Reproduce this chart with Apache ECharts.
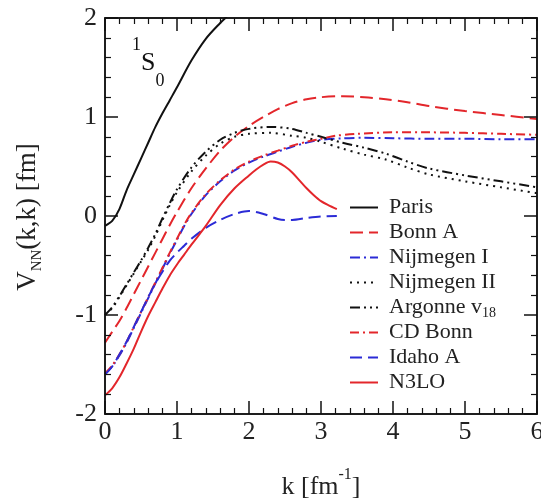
<!DOCTYPE html>
<html lang="en">
<head>
    <meta charset="UTF-8">
    <title>1S0 V_NN(k,k)</title>
    <style>
        html, body { margin: 0; padding: 0; background: #fff; }
        #wrap { position: relative; width: 541px; height: 499px; }
        #chart, #frame { position: absolute; left: 0; top: 0; width: 541px; height: 499px; }
        #frame { pointer-events: none; }
    </style>
</head>
<body>
<div id="wrap">
    <div id="chart"></div>
    <div id="frame"></div>
</div>
<script src="https://cdn.jsdelivr.net/npm/echarts@6/dist/echarts.min.js"></script>
<script type="text/javascript">
    // 数据 [k, V(k,k)]
    var paris = [[0, -0.1], [0.1, -0.05], [0.2, 0.07], [0.3, 0.26], [0.4, 0.42], [0.5, 0.58], [0.6, 0.74],
        [0.7, 0.9], [0.8, 1.04], [0.9, 1.17], [1.0, 1.3], [1.2, 1.57], [1.4, 1.79], [1.6, 1.95], [1.7, 2.02], [1.8, 2.09]];
    var bonnA = [[0, -1.28], [0.1, -1.17], [0.2, -1.06], [0.3, -0.93], [0.4, -0.79], [0.5, -0.65], [0.6, -0.51],
        [0.7, -0.37], [0.8, -0.23], [0.9, -0.09], [1.0, 0.04], [1.2, 0.28], [1.4, 0.48], [1.6, 0.66], [1.8, 0.8],
        [2.0, 0.91], [2.2, 1.0], [2.4, 1.08], [2.6, 1.14], [2.8, 1.18], [3.0, 1.2], [3.3, 1.21], [3.6, 1.2],
        [3.9, 1.18], [4.2, 1.15], [4.5, 1.11], [5.0, 1.06], [5.5, 1.02], [6.0, 0.98]];
    var nijmI = [[0, -1.6], [0.1, -1.52], [0.2, -1.41], [0.3, -1.28], [0.4, -1.13], [0.5, -0.98], [0.6, -0.83],
        [0.7, -0.68], [0.8, -0.53], [0.9, -0.38], [1.0, -0.24], [1.1, -0.1], [1.2, 0.02], [1.4, 0.21], [1.6, 0.35],
        [1.8, 0.46], [2.0, 0.54], [2.2, 0.6], [2.4, 0.65], [2.6, 0.7], [2.8, 0.74], [3.0, 0.77], [3.3, 0.785],
        [3.6, 0.79], [4.0, 0.785], [4.5, 0.78], [5.0, 0.78], [5.5, 0.775], [6.0, 0.775]];
    var nijmII = [[0, -1.0], [0.1, -0.93], [0.2, -0.82], [0.3, -0.7], [0.4, -0.58], [0.5, -0.46], [0.6, -0.34],
        [0.7, -0.2], [0.8, -0.04], [0.9, 0.11], [1.0, 0.24], [1.2, 0.45], [1.4, 0.61], [1.6, 0.73], [1.8, 0.8],
        [2.0, 0.83], [2.3, 0.84], [2.6, 0.81], [2.8, 0.79], [3.0, 0.75], [3.3, 0.68], [3.6, 0.62], [3.9, 0.57],
        [4.2, 0.49], [4.5, 0.42], [5.0, 0.35], [5.5, 0.29], [6.0, 0.23]];
    var argonne = [[0, -1.0], [0.1, -0.92], [0.2, -0.81], [0.3, -0.69], [0.4, -0.57], [0.5, -0.45], [0.6, -0.32],
        [0.7, -0.18], [0.8, -0.02], [0.9, 0.13], [1.0, 0.27], [1.2, 0.49], [1.4, 0.65], [1.6, 0.77], [1.8, 0.84],
        [2.0, 0.88], [2.3, 0.9], [2.6, 0.88], [2.8, 0.84], [3.0, 0.8], [3.3, 0.74], [3.6, 0.69], [3.9, 0.63],
        [4.2, 0.55], [4.5, 0.48], [5.0, 0.41], [5.5, 0.35], [6.0, 0.29]];
    var cdBonn = [[0, -1.59], [0.1, -1.51], [0.2, -1.4], [0.3, -1.27], [0.4, -1.12], [0.5, -0.97], [0.6, -0.82],
        [0.7, -0.67], [0.8, -0.52], [0.9, -0.37], [1.0, -0.23], [1.1, -0.09], [1.2, 0.03], [1.4, 0.22], [1.6, 0.36],
        [1.8, 0.47], [2.0, 0.55], [2.2, 0.61], [2.4, 0.66], [2.6, 0.71], [2.8, 0.75], [3.0, 0.78], [3.2, 0.81],
        [3.5, 0.83], [4.0, 0.845], [4.5, 0.845], [5.0, 0.84], [5.5, 0.83], [6.0, 0.82]];
    var idahoA = [[0, -1.6], [0.1, -1.52], [0.2, -1.4], [0.3, -1.27], [0.4, -1.12], [0.5, -0.97], [0.6, -0.82],
        [0.7, -0.68], [0.8, -0.56], [0.9, -0.45], [1.0, -0.37], [1.1, -0.3], [1.2, -0.23], [1.4, -0.12],
        [1.6, -0.04], [1.8, 0.02], [2.0, 0.05], [2.2, 0.02], [2.4, -0.03], [2.5, -0.04], [2.6, -0.04],
        [2.8, -0.02], [3.0, -0.005], [3.22, 0.0]];
    var n3lo = [[0, -1.81], [0.1, -1.74], [0.2, -1.63], [0.3, -1.49], [0.4, -1.34], [0.5, -1.17], [0.6, -1.01],
        [0.7, -0.87], [0.8, -0.73], [0.9, -0.6], [1.0, -0.49], [1.1, -0.39], [1.2, -0.29], [1.4, -0.1],
        [1.6, 0.11], [1.8, 0.28], [2.0, 0.41], [2.1, 0.47], [2.2, 0.52], [2.3, 0.55], [2.4, 0.54], [2.5, 0.5],
        [2.6, 0.44], [2.7, 0.36], [2.8, 0.28], [2.9, 0.21], [3.0, 0.15], [3.1, 0.11], [3.22, 0.07]];

    var names = ['Paris', 'Bonn A', 'Nijmegen I', 'Nijmegen II', 'Argonne v18', 'CD Bonn', 'Idaho A', 'N3LO'];
    var xTicks = [0, 6, 1];   // min, max, interval
    var yTicks = [-2, 2, 1];

    var FONT = 'Liberation Serif';
    var RED = '#e3262b';
    var BLUE = '#2b2bd6';
    var BLACK = '#111';

    function mkLine(name, data, color, type) {
        return {
            name: name,
            type: 'line',
            data: data,
            symbol: 'none',
            smooth: 0.3,
            lineStyle: {color: color, width: 2, type: type},
            itemStyle: {color: color}
        };
    }

    function mkAxis(kind, pos, t, show) {
        return {
            type: 'value',
            position: pos,
            min: t[0], max: t[1], interval: t[2],
            axisLine: {show: true, onZero: false, lineStyle: {color: BLACK, width: 1.5}},
            axisTick: {show: true, inside: true, length: 13, lineStyle: {color: BLACK, width: 1.5}},
            minorTick: {show: true, splitNumber: 5, length: 6, lineStyle: {color: BLACK, width: 1.2}},
            splitLine: {show: false},
            axisLabel: {
                show: show, fontFamily: FONT, fontSize: 26, color: '#222',
                margin: kind === 'x' ? 5 : 8,
                showMaxLabel: kind === 'x' ? false : true   // 最右 "6" 超出画布，另画
            }
        };
    }

    function mkText(x, y, rot, text, rich) {
        return {
            type: 'text', x: x, y: y, rotation: rot,
            style: {text: text, rich: rich, align: 'center', verticalAlign: 'middle', fill: '#222'}
        };
    }

    // 曲线、图例、标注
    var chart = echarts.init(document.getElementById('chart'));
    chart.setOption({
        animation: false,
        grid: {left: 105, right: 4, top: 18, bottom: 85, outerBoundsMode: 'none'},
        xAxis: {type: 'value', min: xTicks[0], max: xTicks[1], interval: xTicks[2], show: false},
        yAxis: {type: 'value', min: yTicks[0], max: yTicks[1], interval: yTicks[2], show: false},
        legend: {
            orient: 'vertical',
            left: 344,
            top: 190,
            itemWidth: 28,
            itemHeight: 14,
            itemGap: 0,
            itemStyle: {opacity: 0},
            data: names,
            formatter: function (name) {
                if (name === 'Argonne v18') return '{m|Argonne v}{sub|18}';
                return name;
            },
            textStyle: {
                fontFamily: FONT, fontSize: 22, color: '#222', lineHeight: 25, padding: [0, 0, 0, 6],
                rich: {
                    m: {fontFamily: FONT, fontSize: 22, lineHeight: 25, color: '#222'},
                    sub: {fontFamily: FONT, fontSize: 14, lineHeight: 10, verticalAlign: 'bottom', color: '#222'}
                }
            }
        },
        graphic: [
            {
                type: 'text', left: 132, top: 36,
                style: {
                    text: '{a|1}{b|S}{c|0}', fill: '#111',
                    rich: {
                        a: {fontFamily: FONT, fontSize: 18, lineHeight: 14, verticalAlign: 'top', fill: '#111'},
                        b: {fontFamily: FONT, fontSize: 26, lineHeight: 54, fill: '#111'},
                        c: {fontFamily: FONT, fontSize: 18, lineHeight: 26, verticalAlign: 'bottom', fill: '#111'}
                    }
                }
            },
            mkText(537, 432, 0, String(xTicks[1]), {}),
            mkText(321, 487, 0, '{t|k [fm}{sup|-1}{t|]}', {
                t: {fontFamily: FONT, fontSize: 26, lineHeight: 40, fill: '#222'},
                sup: {fontFamily: FONT, fontSize: 16, lineHeight: 16, verticalAlign: 'top', fill: '#222'}
            }),
            mkText(28, 217, Math.PI / 2, '{v|V}{s|NN}{v|(k,k) [fm]}', {
                v: {fontFamily: FONT, fontSize: 27, lineHeight: 34, fill: '#222'},
                s: {fontFamily: FONT, fontSize: 15, lineHeight: 12, verticalAlign: 'bottom', fill: '#222'}
            })
        ],
        series: [
            mkLine(names[0], paris, BLACK, 'solid'),
            mkLine(names[1], bonnA, RED, [13, 6]),
            mkLine(names[2], nijmI, BLUE, [10, 4, 2, 4]),
            mkLine(names[3], nijmII, BLACK, [2, 5]),
            mkLine(names[4], argonne, BLACK, [10, 4, 2, 4, 2, 4]),
            mkLine(names[5], cdBonn, RED, [9, 4, 2, 4]),
            mkLine(names[6], idahoA, BLUE, [12, 6]),
            mkLine(names[7], n3lo, RED, 'solid')
        ]
    });
    // "6" 用与刻度相同的字体
    chart.setOption({graphic: [{}, {style: {font: '26px "Liberation Serif"', fill: '#222'}}]});

    // 坐标框和刻度（四边，刻度朝内）
    var frame = echarts.init(document.getElementById('frame'));
    frame.setOption({
        animation: false,
        backgroundColor: 'transparent',
        grid: {
            left: 105, right: 4, top: 18, bottom: 85, outerBoundsMode: 'none',
            show: true, borderColor: BLACK, borderWidth: 1.5, backgroundColor: 'transparent'
        },
        xAxis: [mkAxis('x', 'bottom', xTicks, true), mkAxis('x', 'top', xTicks, false)],
        yAxis: [mkAxis('y', 'left', yTicks, true), mkAxis('y', 'right', yTicks, false)],
        series: [{type: 'line', data: [], symbol: 'none'}]
    });
</script>
</body>
</html>
